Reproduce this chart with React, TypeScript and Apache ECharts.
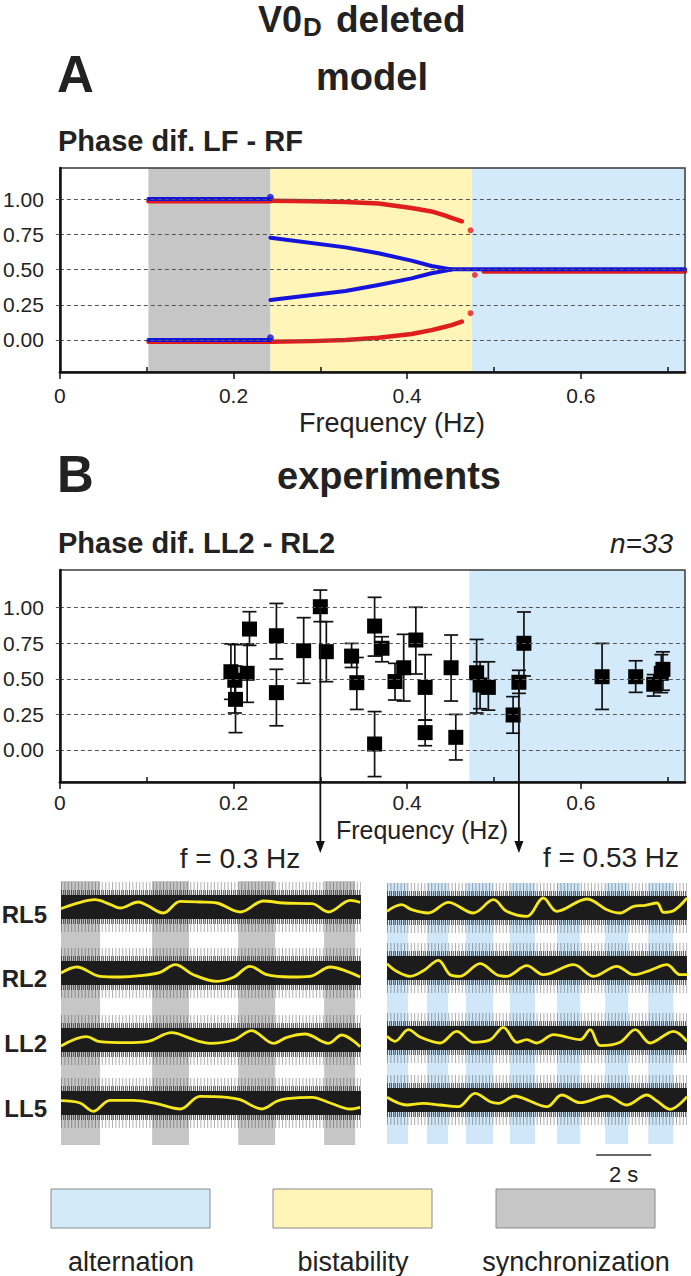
import React, { useEffect, useRef } from "react";
import * as echarts from "echarts";

const FONT = "'Liberation Sans', Arial, Helvetica, sans-serif";

// ---------- axes ----------
const FREQ_MAX = 0.72;
const FREQ_INTERVAL = 0.2;
const FREQ_MINOR_TICKS = [0.1, 0.3, 0.5, 0.7];
const PHASE_TICKS = [0, 0.25, 0.5, 0.75, 1];

// ---------- regimes (Hz) ----------
const MODEL_SYNC = [0.102, 0.2425];
const MODEL_BIST = [0.2425, 0.4745];
const MODEL_ALT = [0.4745, 0.72];
const EXP_ALT = [0.4716, 0.72];

// ---------- model curves [freq, phase] ----------
const RED_SYNC_HIGH = [[0.102, 0.984], [0.2425, 0.984]];
const RED_SYNC_LOW = [[0.102, -0.012], [0.2425, -0.012]];
const RED_BIST_HIGH = [[0.2425, 0.988], [0.29, 0.984], [0.329, 0.979], [0.367, 0.968], [0.405, 0.936], [0.428, 0.912], [0.444, 0.882], [0.451, 0.866], [0.463, 0.842]];
const RED_BIST_LOW = [[0.2425, -0.012], [0.29, -0.008], [0.329, 0.0], [0.367, 0.016], [0.405, 0.042], [0.428, 0.07], [0.444, 0.094], [0.451, 0.106], [0.463, 0.13]];
const RED_DOTS = [[0.473, 0.778], [0.473, 0.19], [0.478, 0.461]];
const RED_ALT = [[0.488, 0.486], [0.72, 0.486]];
const BLUE_SYNC_HIGH = [[0.102, 1.0], [0.2425, 1.0]];
const BLUE_SYNC_LOW = [[0.102, 0.0], [0.2425, 0.0]];
const BLUE_SYNC_ENDS = [[0.2425, 1.012], [0.2425, 0.015]];
const BLUE_BIST_HIGH = [[0.2425, 0.726], [0.329, 0.657], [0.367, 0.615], [0.405, 0.563], [0.428, 0.525], [0.451, 0.501]];
const BLUE_BIST_LOW = [[0.2425, 0.284], [0.329, 0.347], [0.367, 0.39], [0.405, 0.437], [0.428, 0.473], [0.451, 0.499]];
const BLUE_ALT = [[0.451, 0.501], [0.72, 0.501]];

// ---------- experiments (n = 33) ----------
const EXP_FREQ = [0.197, 0.2015, 0.2023, 0.2157, 0.2184, 0.2494, 0.2494, 0.2808, 0.3, 0.3069, 0.336, 0.342, 0.3625, 0.3625, 0.371, 0.386, 0.396, 0.41, 0.4207, 0.4207, 0.4506, 0.456, 0.48, 0.484, 0.4935, 0.522, 0.5287, 0.5345, 0.6245, 0.6632, 0.684, 0.6927, 0.6946];
const EXP_PHASE = [0.55, 0.49, 0.356, 0.539, 0.85, 0.803, 0.403, 0.698, 1.007, 0.691, 0.66, 0.473, 0.871, 0.042, 0.715, 0.481, 0.578, 0.773, 0.44, 0.122, 0.578, 0.089, 0.543, 0.457, 0.44, 0.246, 0.476, 0.75, 0.515, 0.515, 0.462, 0.539, 0.567];
const EXP_LOW = [0.356, 0.26, 0.122, 0.335, 0.735, 0.64, 0.17, 0.469, 0.902, 0.48, 0.58, 0.285, 0.66, -0.187, 0.62, 0.351, 0.344, 0.534, 0.21, 0.03, 0.344, -0.07, 0.26, 0.29, 0.28, 0.118, 0.398, 0.52, 0.285, 0.405, 0.379, 0.403, 0.42];
const EXP_HIGH = [0.746, 0.74, 0.59, 0.746, 0.972, 1.03, 0.567, 0.93, 1.124, 0.902, 0.749, 0.65, 1.073, 0.27, 0.796, 0.609, 0.813, 1.003, 0.67, 0.21, 0.808, 0.25, 0.777, 0.62, 0.62, 0.375, 0.56, 0.97, 0.749, 0.627, 0.53, 0.67, 0.69];
const ARROW_POINTS = [8, 26];
const ARROW_LABELS = ["f = 0.3 Hz", "f = 0.53 Hz"];

// ---------- recordings (time s, smoothed activity) ----------
const TRACE_DURATION = 10.9;
const TRACE_NAMES = ["RL5", "RL2", "LL2", "LL5"];
const SYNC_STRIPES = [[0, 1.42], [3.31, 4.65], [6.44, 7.78], [9.56, 10.69]];
const ALT_STRIPES = [[0, 0.76], [1.45, 2.22], [2.87, 3.85], [4.47, 5.38], [6.18, 7.02], [7.93, 8.76], [9.49, 10.4]];
const RL5_03 = [[0, -1.7], [0.45, 2.7], [1.24, 7.3], [1.78, 2.7], [2.15, -1], [2.81, 5], [3.12, 1.7], [3.72, -6], [4.33, 5.7], [5.05, 5], [5.66, 4], [6.51, -5], [7.36, 6], [8.08, 4], [9.12, 3.3], [9.72, -5], [10.51, 6.7], [10.87, 4.7]];
const RL2_03 = [[0, 0], [0.57, 6], [1.42, -3.3], [2.15, -4], [2.87, -2.7], [3.6, 0.7], [4.15, 8.3], [4.81, -1.7], [5.66, -8.3], [6.27, -4.3], [6.87, 6.7], [7.48, -1.7], [8.33, -4], [9.05, -3.3], [9.78, 6], [10.39, 1.7], [10.87, -4]];
const LL2_03 = [[0, -6], [0.93, 3.3], [1.42, -1.7], [2.39, -2.7], [3.12, -1.7], [4.02, 7.3], [4.69, 1.7], [5.05, -1.7], [5.42, -3.3], [6.27, 0], [6.93, 9.3], [7.72, -3.3], [8.21, 2.7], [8.87, 6], [9.72, -3.3], [10.2, 5], [10.87, -6.7]];
const LL5_03 = [[0, 2.3], [0.69, 0], [1.17, -8.3], [1.78, 2.7], [2.63, 2.7], [3.48, -0.7], [4.33, -6], [5.05, 6.7], [6.03, 5.7], [6.51, 3.3], [7.3, -6], [7.84, 1.7], [8.21, 4.3], [9.12, 5.7], [9.78, 0], [10.51, -6], [10.87, -4.3]];
const RL5_053 = [[0, -3.3], [0.53, 3.3], [0.9, -1.7], [1.5, -5], [2.23, 5.7], [3.14, -5], [3.87, 8.3], [4.35, -3.3], [5.08, -8.3], [5.68, 10], [6.17, -3.3], [7.26, 9], [7.99, -1.7], [8.47, -5], [8.96, 1.7], [9.38, 2.7], [9.81, 5], [10.05, -4.3], [10.41, -2.7], [10.9, 10]];
const RL2_053 = [[0, 4.3], [0.35, -3.3], [0.84, -8.3], [1.32, -2.7], [1.87, 7.7], [2.29, -6.7], [2.65, -8.3], [3.38, 4.3], [3.99, -6.7], [4.35, -8.3], [5.08, 2.3], [5.68, -6.7], [6.78, 3.3], [7.5, -8.3], [8.35, 1.7], [8.96, -6.7], [9.56, -2.3], [10.17, 3.3], [10.65, -6.7], [10.9, -6.7]];
const LL2_053 = [[0, 1.7], [0.29, -3.3], [0.78, 8.3], [1.2, 1], [1.93, -5], [2.53, 6.7], [3.14, -4.3], [3.75, -1.7], [4.23, 10.7], [4.72, -4.3], [5.08, -1.7], [5.44, -5], [6.05, 3.3], [7.02, -1.7], [7.38, 8.3], [7.75, -7.7], [8.47, -4.3], [9.02, 8.3], [9.56, -5], [10.41, 6.7], [10.9, -3.3]];
const LL5_053 = [[0, 2.7], [0.72, -5], [1.32, -3.3], [1.93, -5], [2.59, -6.7], [3.2, 6.7], [3.75, -1.7], [4.05, -3.3], [4.65, 4], [4.96, 1.7], [5.81, -6.7], [6.35, 5], [7.02, -2.7], [7.99, 4], [8.72, -5], [9.44, 5], [9.81, -1], [10.29, -9.3], [10.9, 3.3]];
const TRACES_03 = [RL5_03, RL2_03, LL2_03, LL5_03];
const TRACES_053 = [RL5_053, RL2_053, LL2_053, LL5_053];
const SCALE_BAR_START = 7.6;
const SCALE_BAR_LEN = 2;

const LEGEND = ["alternation", "bistability", "synchronization"];

// ---------- colours ----------
const RED = "#e01e1e";
const BLUE = "#1414dc";
const C_ALT = "#d3eafa";
const C_BIST = "#fff5b8";
const C_SYNC = "#c6c6c6";
const C_STRIPE_ALT = "#cfe7f8";
const YELLOW = "#f6e81c";
const TXT = "#222";

// ---------- layout ----------
const LEFT_CENTERS = [907, 973, 1040, 1103];
const RIGHT_CENTERS = [908, 968, 1038, 1100];

function freqAxis(gridIndex: number) {
  return {
    type: "value", gridIndex, min: 0, max: FREQ_MAX, interval: FREQ_INTERVAL, z: 6,
    axisLine: { show: true, onZero: false, lineStyle: { color: "#111", width: 2.5 } },
    axisTick: { show: true, length: 7, lineStyle: { color: "#111", width: 1.5 } },
    axisLabel: { fontSize: 21, color: TXT, fontFamily: FONT, margin: gridIndex === 0 ? 13 : 10, showMaxLabel: false, formatter: (v: number) => (v === 0 ? "0" : String(+v.toFixed(1))) },
    splitLine: { show: false },
  };
}
function freqMinorAxis(gridIndex: number) {
  return {
    type: "value", gridIndex, position: "bottom", min: 0, max: FREQ_MAX, z: 6,
    axisLine: { show: false, onZero: false },
    axisLabel: { show: false },
    axisTick: { show: true, inside: true, length: 5, customValues: FREQ_MINOR_TICKS, lineStyle: { color: "#111", width: 1.5 } },
    splitLine: { show: false },
  };
}
function phaseAxis(gridIndex: number, min: number, max: number) {
  return {
    type: "value", gridIndex, min, max, z: 6,
    axisLine: { show: true, onZero: false, lineStyle: { color: "#111", width: 2.5 } },
    axisTick: { show: true, customValues: PHASE_TICKS, length: 7, lineStyle: { color: "#555", width: 1, type: [4, 3] } },
    axisLabel: { customValues: PHASE_TICKS, formatter: (v: number) => v.toFixed(2), fontSize: 21, color: TXT, fontFamily: FONT, margin: 16 },
    splitLine: { show: false },
  };
}
function hiddenAxis(gridIndex: number, min: number, max: number) {
  return { type: "value", gridIndex, min, max, show: false, splitLine: { show: false } };
}
function line(data: number[][], color: string, width: number, xi: number, yi: number, extra: any = {}) {
  return {
    type: "line", xAxisIndex: xi, yAxisIndex: yi, data, symbol: "none", showSymbol: false, silent: true,
    lineStyle: { color, width, cap: "round", join: "round" }, itemStyle: { color }, z: 3, ...extra,
  };
}
function areas(ranges: number[][], color: string) {
  return ranges.map((r) => [{ xAxis: r[0], itemStyle: { color } }, { xAxis: r[1] }]);
}
function dashes() {
  return {
    silent: true, symbol: ["none", "none"], label: { show: false },
    lineStyle: { type: [4, 3], color: "#555", width: 1 },
    data: PHASE_TICKS.map((v) => ({ yAxis: v })),
  };
}

function buildOption() {
  const grids: any[] = [
    { left: 59, top: 168, width: 626, height: 204, show: true, borderColor: "#3a3a3a", borderWidth: 1.5, backgroundColor: "transparent", z: 6 },
    { left: 59, top: 570, width: 626, height: 212, show: true, borderColor: "#3a3a3a", borderWidth: 1.5, backgroundColor: "transparent", z: 6 },
    { left: 61, top: 881, width: 300, height: 264 },
    { left: 387, top: 883, width: 300, height: 261 },
  ];
  const xAxes: any[] = [freqAxis(0), freqMinorAxis(0), freqAxis(1), freqMinorAxis(1), hiddenAxis(2, 0, TRACE_DURATION), hiddenAxis(3, 0, TRACE_DURATION)];
  const yAxes: any[] = [phaseAxis(0, -0.227, 1.22), phaseAxis(1, -0.225, 1.265), hiddenAxis(2, 0, 1), hiddenAxis(3, 0, 1)];
  const series: any[] = [];

  // Panel A
  series.push({
    type: "line", xAxisIndex: 0, yAxisIndex: 0, data: [], silent: true, z: 1,
    markArea: { silent: true, data: [...areas([MODEL_SYNC], C_SYNC), ...areas([MODEL_BIST], C_BIST), ...areas([MODEL_ALT], C_ALT)] },
    markLine: dashes(),
  });
  [RED_SYNC_HIGH, RED_SYNC_LOW, RED_BIST_HIGH, RED_BIST_LOW, RED_ALT].forEach((d) => series.push(line(d, RED, 4.5, 0, 0)));
  series.push({ type: "scatter", xAxisIndex: 0, yAxisIndex: 0, data: RED_DOTS, symbolSize: 6, itemStyle: { color: RED }, silent: true, z: 3 });
  [BLUE_SYNC_HIGH, BLUE_SYNC_LOW, BLUE_BIST_HIGH, BLUE_BIST_LOW, BLUE_ALT].forEach((d) => series.push(line(d, BLUE, 4, 0, 0, { z: 4 })));
  series.push({ type: "scatter", xAxisIndex: 0, yAxisIndex: 0, data: BLUE_SYNC_ENDS, symbolSize: 7, itemStyle: { color: BLUE }, silent: true, z: 4 });

  // Panel B
  series.push({
    type: "line", xAxisIndex: 2, yAxisIndex: 1, data: [], silent: true, z: 1,
    markArea: { silent: true, data: areas([EXP_ALT], C_ALT) },
    markLine: dashes(),
  });
  const expData = EXP_FREQ.map((f, i) => [f, EXP_PHASE[i], EXP_LOW[i], EXP_HIGH[i]]);
  series.push({
    type: "custom", xAxisIndex: 2, yAxisIndex: 1, data: expData, silent: true, z: 3,
    encode: { x: 0, y: [1, 2, 3] },
    renderItem: (_p: any, api: any) => {
      const x = api.value(0);
      const top = api.coord([x, api.value(3)]);
      const bot = api.coord([x, api.value(2)]);
      const st = { stroke: "#111", lineWidth: 1.7 };
      const hw = 7;
      return {
        type: "group",
        children: [
          { type: "line", shape: { x1: top[0], y1: top[1], x2: bot[0], y2: bot[1] }, style: st },
          { type: "line", shape: { x1: top[0] - hw, y1: top[1], x2: top[0] + hw, y2: top[1] }, style: st },
          { type: "line", shape: { x1: bot[0] - hw, y1: bot[1], x2: bot[0] + hw, y2: bot[1] }, style: st },
        ],
      };
    },
  });
  series.push({
    type: "scatter", xAxisIndex: 2, yAxisIndex: 1, data: EXP_FREQ.map((f, i) => [f, EXP_PHASE[i]]),
    symbol: "rect", symbolSize: 15, itemStyle: { color: "#000", opacity: 1 }, silent: true, z: 4,
  });

  // Recordings: stripes
  series.push({ type: "line", xAxisIndex: 4, yAxisIndex: 2, data: [], silent: true, z: 1, markArea: { silent: true, data: areas(SYNC_STRIPES, C_SYNC) } });
  series.push({ type: "line", xAxisIndex: 5, yAxisIndex: 3, data: [], silent: true, z: 1, markArea: { silent: true, data: areas(ALT_STRIPES, C_STRIPE_ALT) } });

  // Recordings: traces
  const addTrace = (left: number, center: number, data: number[][]) => {
    const gi = grids.length;
    grids.push({ left, top: center - 30, width: 300, height: 60 });
    const xi = xAxes.length;
    xAxes.push(hiddenAxis(gi, 0, TRACE_DURATION));
    const yi = yAxes.length;
    yAxes.push(hiddenAxis(gi, -30, 30));
    const base = [[0, 0], [TRACE_DURATION, 0]];
    series.push({ type: "line", xAxisIndex: xi, yAxisIndex: yi, data: base, symbol: "none", silent: true, z: 2, lineStyle: { color: "rgba(30,30,30,0.35)", width: 50, type: [1, 2.4], cap: "butt" } });
    series.push({ type: "line", xAxisIndex: xi, yAxisIndex: yi, data: base, symbol: "none", silent: true, z: 2, lineStyle: { color: "rgba(20,20,20,0.6)", width: 34, type: [1, 1], cap: "butt" } });
    series.push({ type: "line", xAxisIndex: xi, yAxisIndex: yi, data: base, symbol: "none", silent: true, z: 2, lineStyle: { color: "#1c1c1c", width: 24, cap: "butt" } });
    series.push({ type: "line", xAxisIndex: xi, yAxisIndex: yi, data, symbol: "none", smooth: 0.35, silent: true, z: 3, lineStyle: { color: YELLOW, width: 2.8 } });
  };
  TRACES_03.forEach((d, i) => addTrace(61, LEFT_CENTERS[i], d));
  TRACES_053.forEach((d, i) => addTrace(387, RIGHT_CENTERS[i], d));

  return { animation: false, backgroundColor: "#fff", grid: grids, xAxis: xAxes, yAxis: yAxes, series };
}

function txt(text: string, x: number, y: number, size: number, o: any = {}) {
  const align = o.align || "left";
  return {
    type: "text", x, y, silent: true, z: 20,
    style: {
      text, fill: TXT, fontSize: size, fontFamily: FONT,
      fontWeight: o.bold ? "bold" : "normal", fontStyle: o.italic ? "italic" : "normal",
      align, verticalAlign: "middle", textAlign: align, textVerticalAlign: "middle",
    },
  };
}

function buildGraphics(chart: any) {
  const g: any[] = [];
  g.push(txt("V0", 258, 19, 36, { bold: true }));
  g.push(txt("D", 303, 27, 26, { bold: true }));
  g.push(txt("deleted", 336, 19, 37, { bold: true }));
  g.push(txt("A", 57, 74, 51, { bold: true }));
  g.push(txt("model", 372, 77, 38, { bold: true, align: "center" }));
  g.push(txt("Phase dif. LF - RF", 58, 141, 29, { bold: true }));
  g.push(txt("Frequency (Hz)", 392, 423, 27, { align: "center" }));
  g.push(txt("B", 57, 474, 51, { bold: true }));
  g.push(txt("experiments", 389, 476, 38, { bold: true, align: "center" }));
  g.push(txt("Phase dif. LL2 - RL2", 58, 543, 29, { bold: true }));
  g.push(txt("n=33", 673, 543, 28, { italic: true, align: "right" }));
  g.push(txt("Frequency (Hz)", 422, 830, 25, { align: "center" }));
  g.push(txt(ARROW_LABELS[0], 240, 858, 28, { align: "center" }));
  g.push(txt(ARROW_LABELS[1], 611, 857, 28, { align: "center" }));
  const labelY = [914, 978, 1043, 1108];
  TRACE_NAMES.forEach((n, i) => g.push(txt(n, 47, labelY[i], 24, { bold: true, align: "right" })));

  // arrows from the experiment points to the recordings
  const tipY = 853;
  ARROW_POINTS.forEach((idx) => {
    const p = chart.convertToPixel({ gridIndex: 1 }, [EXP_FREQ[idx], EXP_PHASE[idx]]);
    g.push({ type: "line", silent: true, z: 15, shape: { x1: p[0], y1: p[1], x2: p[0], y2: tipY - 10 }, style: { stroke: "#111", lineWidth: 1.8 } });
    g.push({ type: "polygon", silent: true, z: 15, shape: { points: [[p[0] - 4.5, tipY - 12], [p[0] + 4.5, tipY - 12], [p[0], tipY]] }, style: { fill: "#111" } });
  });

  // scale bar
  const s0 = chart.convertToPixel({ gridIndex: 3 }, [SCALE_BAR_START, 0]);
  const s1 = chart.convertToPixel({ gridIndex: 3 }, [SCALE_BAR_START + SCALE_BAR_LEN, 0]);
  g.push({ type: "line", silent: true, shape: { x1: s0[0], y1: 1155, x2: s1[0], y2: 1155 }, style: { stroke: "#333", lineWidth: 1.5 } });
  g.push(txt(`${SCALE_BAR_LEN} s`, (s0[0] + s1[0]) / 2, 1174, 22, { align: "center" }));

  // legend boxes
  const boxes = [[51, C_ALT], [273, C_BIST], [496, C_SYNC]];
  boxes.forEach((b: any, i) => {
    g.push({ type: "rect", silent: true, shape: { x: b[0], y: 1189, width: 159, height: 39 }, style: { fill: b[1], stroke: "#8a8a8a", lineWidth: 1 } });
    g.push(txt(LEGEND[i], b[0] + 80, 1262, 27, { align: "center" }));
  });
  return g;
}

export default function App() {
  const ref = useRef<HTMLDivElement>(null);
  useEffect(() => {
    const chart = echarts.init(ref.current!, null, { renderer: "svg" });
    chart.setOption(buildOption());
    chart.setOption({ graphic: buildGraphics(chart) });
    return () => chart.dispose();
  }, []);
  return <div ref={ref} style={{ position: "absolute", left: 0, top: 0, width: 691, height: 1276, background: "#fff" }} />;
}
